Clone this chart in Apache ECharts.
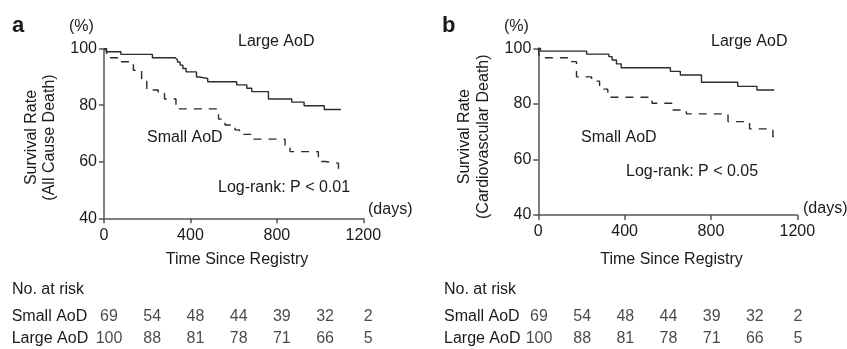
<!DOCTYPE html>
<html><head><meta charset="utf-8">
<script src="https://cdn.jsdelivr.net/npm/echarts@6/dist/echarts.min.js"></script>
<style>html,body{margin:0;padding:0;background:#fff}#c{width:847px;height:349px}</style>
</head><body><div id="c"></div>
<script>
const FONT = '"Liberation Sans", Arial, Helvetica, sans-serif';
const TXT = '#1a1a1a';
const AX = '#555';
const FS = 16;

// Panel a: all-cause death (days, survival %)
const largeA = [[0,100],[10,98.9],[78,98.0],[224,96.8],[329,96.1],[340,95.3],[352,94.2],[365,93.0],[380,91.8],[428,90.0],[440,89.5],[480,88.3],[614,87.2],[661,86.0],[684,84.8],[761,82.2],[869,81.1],[926,79.8],[1019,78.5],[1096,78.5]];
const smallA = [[0,100],[12,96.8],[70,95.4],[136,92.4],[174,88.5],[198,85.4],[251,84.2],[280,82.2],[333,78.7],[530,75.1],[560,73.0],[606,71.3],[627,69.7],[685,68.0],[838,65.4],[861,63.6],[992,60.1],[1023,59.5],[1085,57.5],[1093,57.5]];
// Panel b: cardiovascular death
const largeB = [[0,100],[10,99.0],[224,97.9],[327,97.0],[342,95.8],[362,94.4],[384,93.0],[612,91.7],[658,90.4],[756,87.8],[924,86.3],[1013,85.0],[1093,85.0]];
const smallB = [[0,100],[5,96.6],[150,95.2],[177,89.7],[247,88.2],[284,85.3],[322,82.4],[527,80.2],[618,77.8],[686,76.4],[879,73.6],[979,71.0],[1087,68.2],[1093,68.2]];

// Number at risk
const riskTimes = [0,200,400,600,800,1000,1200];
const riskSmall = [69,54,48,44,39,32,2];
const riskLarge = [100,88,81,78,71,66,5];
const rowNames = ['Large AoD','Small AoD'];

const chart = echarts.init(document.getElementById('c'), null, {renderer:'canvas'});

function mainX(gi){
  return {gridIndex:gi,type:'value',min:0,max:1200,interval:400,
    axisLine:{show:true,lineStyle:{color:AX,width:1.5}},
    axisTick:{show:true,length:5,lineStyle:{color:AX,width:1.5}},
    axisLabel:{color:TXT,fontSize:FS,fontFamily:FONT,margin:9,formatter:v=>String(v)},
    splitLine:{show:false}};
}
function mainY(gi){
  return {gridIndex:gi,type:'value',min:40,max:100,interval:20,
    axisLine:{show:true,lineStyle:{color:AX,width:1.5}},
    axisTick:{show:true,length:5,lineStyle:{color:AX,width:1.5}},
    axisLabel:{color:TXT,fontSize:FS,fontFamily:FONT,margin:7},
    splitLine:{show:false}};
}
function tabX(gi){
  return {gridIndex:gi,type:'value',min:0,max:1200,show:false};
}
function tabY(gi,margin){
  return {gridIndex:gi,type:'category',data:rowNames,
    axisLine:{show:false},axisTick:{show:false},splitLine:{show:false},
    axisLabel:{color:TXT,fontSize:FS,fontFamily:FONT,align:'left',margin:margin}};
}
function kmLine(xi,data,dashed){
  return {type:'line',xAxisIndex:xi,yAxisIndex:xi,data:data,step:'end',
    showSymbol:false,symbol:'none',silent:true,
    lineStyle:{color:'#2b2b2b',width:1.4,type:dashed?[8,7]:'solid'}};
}
function riskSeries(xi,row,vals){
  return {type:'scatter',xAxisIndex:xi,yAxisIndex:xi,symbolSize:1,silent:true,
    itemStyle:{color:'rgba(0,0,0,0)'},
    data:riskTimes.map((t,i)=>[t,row,vals[i]]),
    label:{show:true,position:'inside',formatter:p=>String(p.value[2]),
      color:TXT,fontSize:FS,fontFamily:FONT}};
}
function txt(x,y,s,opt){
  return Object.assign({type:'text',x:x,y:y,silent:true,
    style:Object.assign({text:s,fill:TXT,font:FS+'px '+FONT,align:'left',verticalAlign:'middle'},(opt&&opt.style)||{})},
    opt&&opt.rot?{rotation:opt.rot}:{});
}

chart.setOption({
  animation:false,
  backgroundColor:'#fff',
  grid:[
    {left:104,top:48.7,width:259.3,height:169.6},
    {left:538.3,top:48.3,width:259,height:166.7},
    {left:109,top:305.4,width:259.3,height:45.2},
    {left:539,top:305.4,width:259,height:45.2}
  ],
  xAxis:[mainX(0),mainX(1),tabX(2),tabX(3)],
  yAxis:[mainY(0),mainY(1),tabY(2,97.3),tabY(3,95)],
  series:[
    kmLine(0,largeA,false),kmLine(0,smallA,true),
    kmLine(1,largeB,false),kmLine(1,smallB,true),
    riskSeries(2,'Small AoD',riskSmall),riskSeries(2,'Large AoD',riskLarge),
    riskSeries(3,'Small AoD',riskSmall),riskSeries(3,'Large AoD',riskLarge)
  ],
  graphic:[
    txt(12,26,'a',{style:{font:'bold 22px '+FONT}}),
    txt(442,26,'b',{style:{font:'bold 22px '+FONT}}),
    txt(69,27,'(%)'),txt(504,27,'(%)'),
    txt(368,210,'(days)'),txt(803,209,'(days)'),
    txt(238,42,'Large AoD'),txt(711,42,'Large AoD'),
    txt(147,138,'Small AoD'),txt(581,138,'Small AoD'),
    txt(218,188,'Log-rank: P < 0.01'),txt(626,172,'Log-rank: P < 0.05'),
    txt(237,260,'Time Since Registry',{style:{align:'center'}}),
    txt(671.5,260,'Time Since Registry',{style:{align:'center'}}),
    txt(12,290,'No. at risk'),txt(444,290,'No. at risk'),
    txt(40.3,137.5,'Survival Rate\n(All Cause Death)',{rot:Math.PI/2,style:{align:'center',lineHeight:18}}),
    txt(474.2,136.7,'Survival Rate\n(Cardiovascular Death)',{rot:Math.PI/2,style:{align:'center',lineHeight:19}})
  ]
});
</script></body></html>
